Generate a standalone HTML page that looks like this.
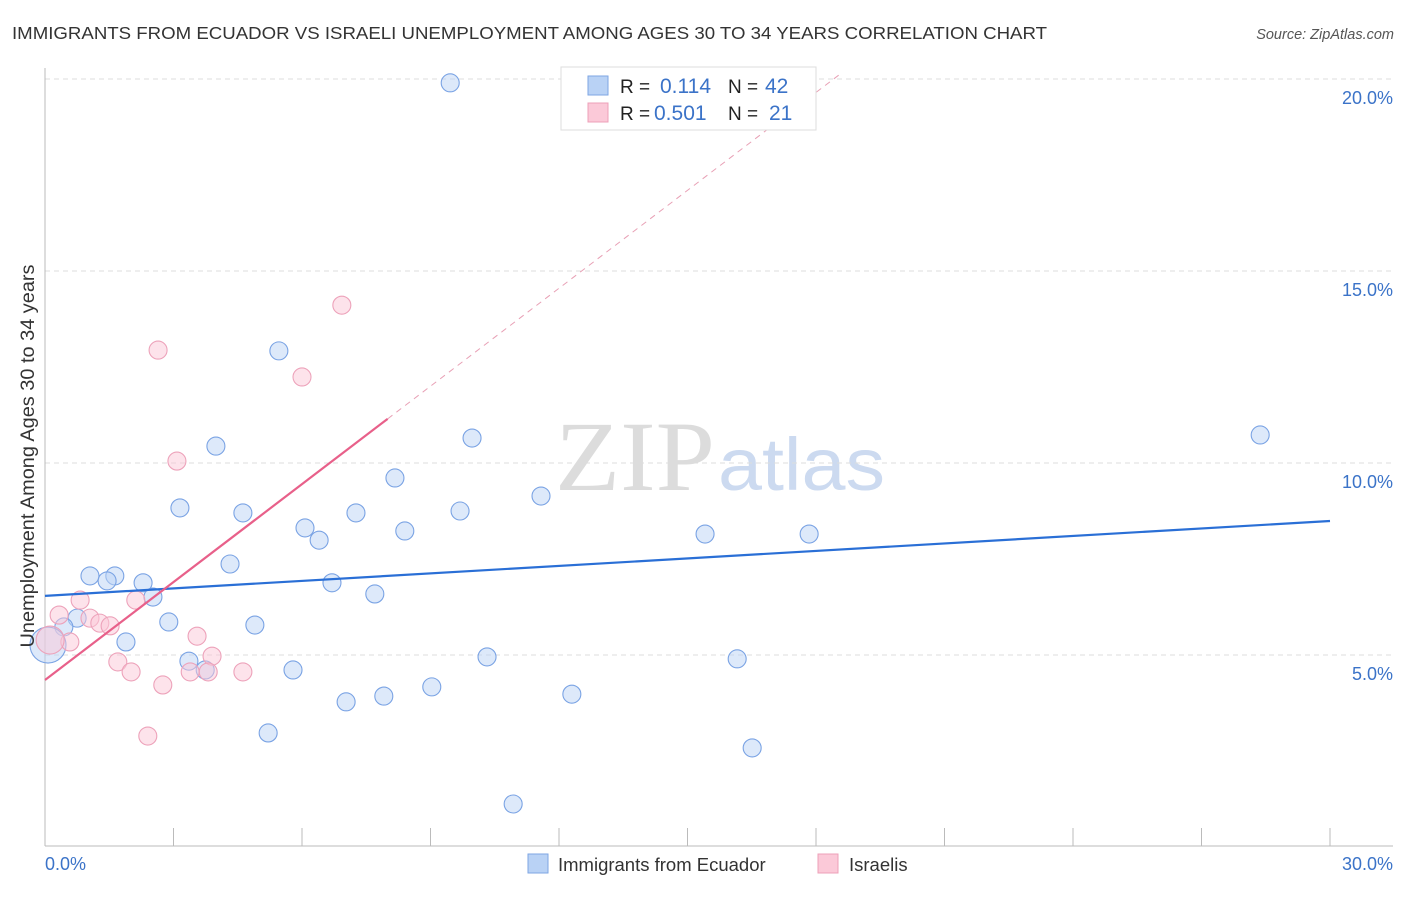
<!DOCTYPE html>
<html><head><meta charset="utf-8"><style>
body{margin:0;background:#fff;font-family:"Liberation Sans",sans-serif;}
svg text{font-family:"Liberation Sans",sans-serif;}
</style></head><body>
<svg id="chart" width="1406" height="892">
<text x="12" y="39" font-size="17.5" fill="#333" textLength="1035" lengthAdjust="spacingAndGlyphs">IMMIGRANTS FROM ECUADOR VS ISRAELI UNEMPLOYMENT AMONG AGES 30 TO 34 YEARS CORRELATION CHART</text>
<text x="1394" y="39" font-size="14.5" fill="#555" font-style="italic" text-anchor="end">Source: ZipAtlas.com</text>
<text x="555" y="490" font-size="100" fill="#dcdcdc" textLength="160" lengthAdjust="spacingAndGlyphs" style="font-family:'Liberation Serif',serif">ZIP</text>
<text x="718" y="490" font-size="74" fill="#ccdaf0" textLength="167" lengthAdjust="spacingAndGlyphs">atlas</text>
<g id="grid"></g><g id="axes"></g><g id="marks"></g>
<text x="34" y="456" font-size="19" fill="#333" text-anchor="middle" textLength="383" lengthAdjust="spacingAndGlyphs" transform="rotate(-90 34 456)">Unemployment Among Ages 30 to 34 years</text>
<g>
<rect x="561" y="67" width="255" height="63" fill="#fff" stroke="#ddd"/>
<rect x="588" y="76" width="20" height="19" fill="#b9d2f5" stroke="#7ea6e3"/>
<rect x="588" y="103" width="20" height="19" fill="#fbc9d8" stroke="#eea0b8"/>
<text x="620" y="93" font-size="19" fill="#222">R = </text><text x="660" y="93" font-size="21" fill="#3b73c8">0.114</text>
<text x="728" y="93" font-size="19" fill="#222">N = </text><text x="765" y="93" font-size="21" fill="#3b73c8">42</text>
<text x="620" y="120" font-size="19" fill="#222">R = </text><text x="654" y="120" font-size="21" fill="#3b73c8">0.501</text>
<text x="728" y="120" font-size="19" fill="#222">N = </text><text x="769" y="120" font-size="21" fill="#3b73c8">21</text>
</g>
<g>
<rect x="528" y="854" width="20" height="19" fill="#b9d2f5" stroke="#7ea6e3"/>
<text x="558" y="871" font-size="18.5" fill="#333">Immigrants from Ecuador</text>
<rect x="818" y="854" width="20" height="19" fill="#fbc9d8" stroke="#eea0b8"/>
<text x="849" y="871" font-size="18.5" fill="#333">Israelis</text>
</g>
</svg>
<script>
const blueX=[9.46,5.46,3.99,9.97,28.37,3.15,4.62,8.17,9.69,11.58,7.26,6.07,6.40,8.40,15.41,17.84,4.32,1.05,1.63,1.45,2.29,6.70,2.52,7.70,0.75,2.89,0.44,4.90,1.89,0.07,3.36,3.74,5.79,10.32,16.16,9.03,7.91,7.03,12.30,5.21,16.51,10.93];
const blueY=[19.90,12.92,10.44,10.65,10.73,8.83,8.70,9.61,8.75,9.14,8.70,8.31,7.99,8.23,8.15,8.15,7.37,7.06,7.06,6.93,6.88,6.88,6.51,6.59,5.96,5.86,5.73,5.78,5.34,5.26,4.84,4.61,4.61,4.95,4.90,4.17,3.93,3.78,3.98,2.97,2.58,1.12];
const pinkX=[6.93,2.64,6.00,3.08,0.33,0.82,2.12,1.05,1.28,1.52,3.55,0.58,0.12,3.90,1.70,2.01,3.39,4.62,3.81,2.75,2.40];
const pinkY=[14.11,12.94,12.24,10.05,6.04,6.43,6.43,5.96,5.83,5.76,5.49,5.34,5.39,4.97,4.82,4.56,4.56,4.56,4.56,4.22,2.89];
const yTicks=[5,10,15,20];
const yTickLabels=["5.0%","10.0%","15.0%","20.0%"];
const xTicks=[0,3,6,9,12,15,18,21,24,27,30];
const blueTrend=[6.54,8.49];
const pinkTrend=[4.35,11.15];
const pinkSolidEnd=8.0;
const NS="http://www.w3.org/2000/svg";
const xs=v=>45+v/30*1285, ys=v=>847-v*38.4;
function mk(t,a,p){const e=document.createElementNS(NS,t);for(const k in a)e.setAttribute(k,a[k]);p.appendChild(e);return e;}
const grid=document.getElementById('grid'),axes=document.getElementById('axes'),marks=document.getElementById('marks');
yTicks.forEach((v,i)=>{
 const l=mk('line',{x1:45,x2:1393,y1:ys(v),y2:ys(v),stroke:'#ddd','stroke-dasharray':'5,4'},grid);
 
 
 const t=mk('text',{x:1393,y:ys(v)+25,'font-size':18,fill:'#3b73c8','text-anchor':'end'},axes);t.textContent=yTickLabels[i];
 
 
});
const ya=mk('line',{x1:45,x2:45,y1:68,y2:846,stroke:'#bbb'},axes);


const xa=mk('line',{x1:45,x2:1393,y1:846,y2:846,stroke:'#bbb'},axes);


xTicks.forEach(v=>{const l=mk('line',{x1:xs(v),x2:xs(v),y1:828,y2:846,stroke:'#bbb'},axes);
 
 });
const x0=mk('text',{x:45,y:870,'font-size':18,fill:'#3b73c8'},axes);x0.textContent="0.0%";


const x1=mk('text',{x:1393,y:870,'font-size':18,fill:'#3b73c8','text-anchor':'end'},axes);x1.textContent="30.0%";


function dot(x,y,c,s,r,n){const e=mk('circle',{cx:xs(x),cy:ys(y),r:r,fill:c,'fill-opacity':0.5,stroke:s,'stroke-width':1.1},marks);
 
 }
blueX.forEach((x,i)=>dot(x,blueY[i],'#bcd4f6','#7aa3e4',i==29?18:9,'point-ecuador'));
pinkX.forEach((x,i)=>dot(x,pinkY[i],'#fbc8d8','#eda2ba',i==12?14:9,'point-israelis'));
const bt=mk('line',{x1:xs(0),y1:ys(blueTrend[0]),x2:xs(30),y2:ys(blueTrend[1]),stroke:'#2a6fd6','stroke-width':2.2},marks);


const slope=(pinkTrend[1]-pinkTrend[0])/pinkSolidEnd;
const ps=mk('line',{x1:xs(0),y1:ys(pinkTrend[0]),x2:xs(pinkSolidEnd),y2:ys(pinkTrend[1]),stroke:'#e8608a','stroke-width':2.2},marks);


const xe=(20.1-pinkTrend[0])/slope;
const pd=mk('line',{x1:xs(pinkSolidEnd),y1:ys(pinkTrend[1]),x2:xs(xe),y2:ys(20.1),stroke:'#e8a0b5','stroke-width':1,'stroke-dasharray':'6,5'},marks);


</script>
</body></html>
